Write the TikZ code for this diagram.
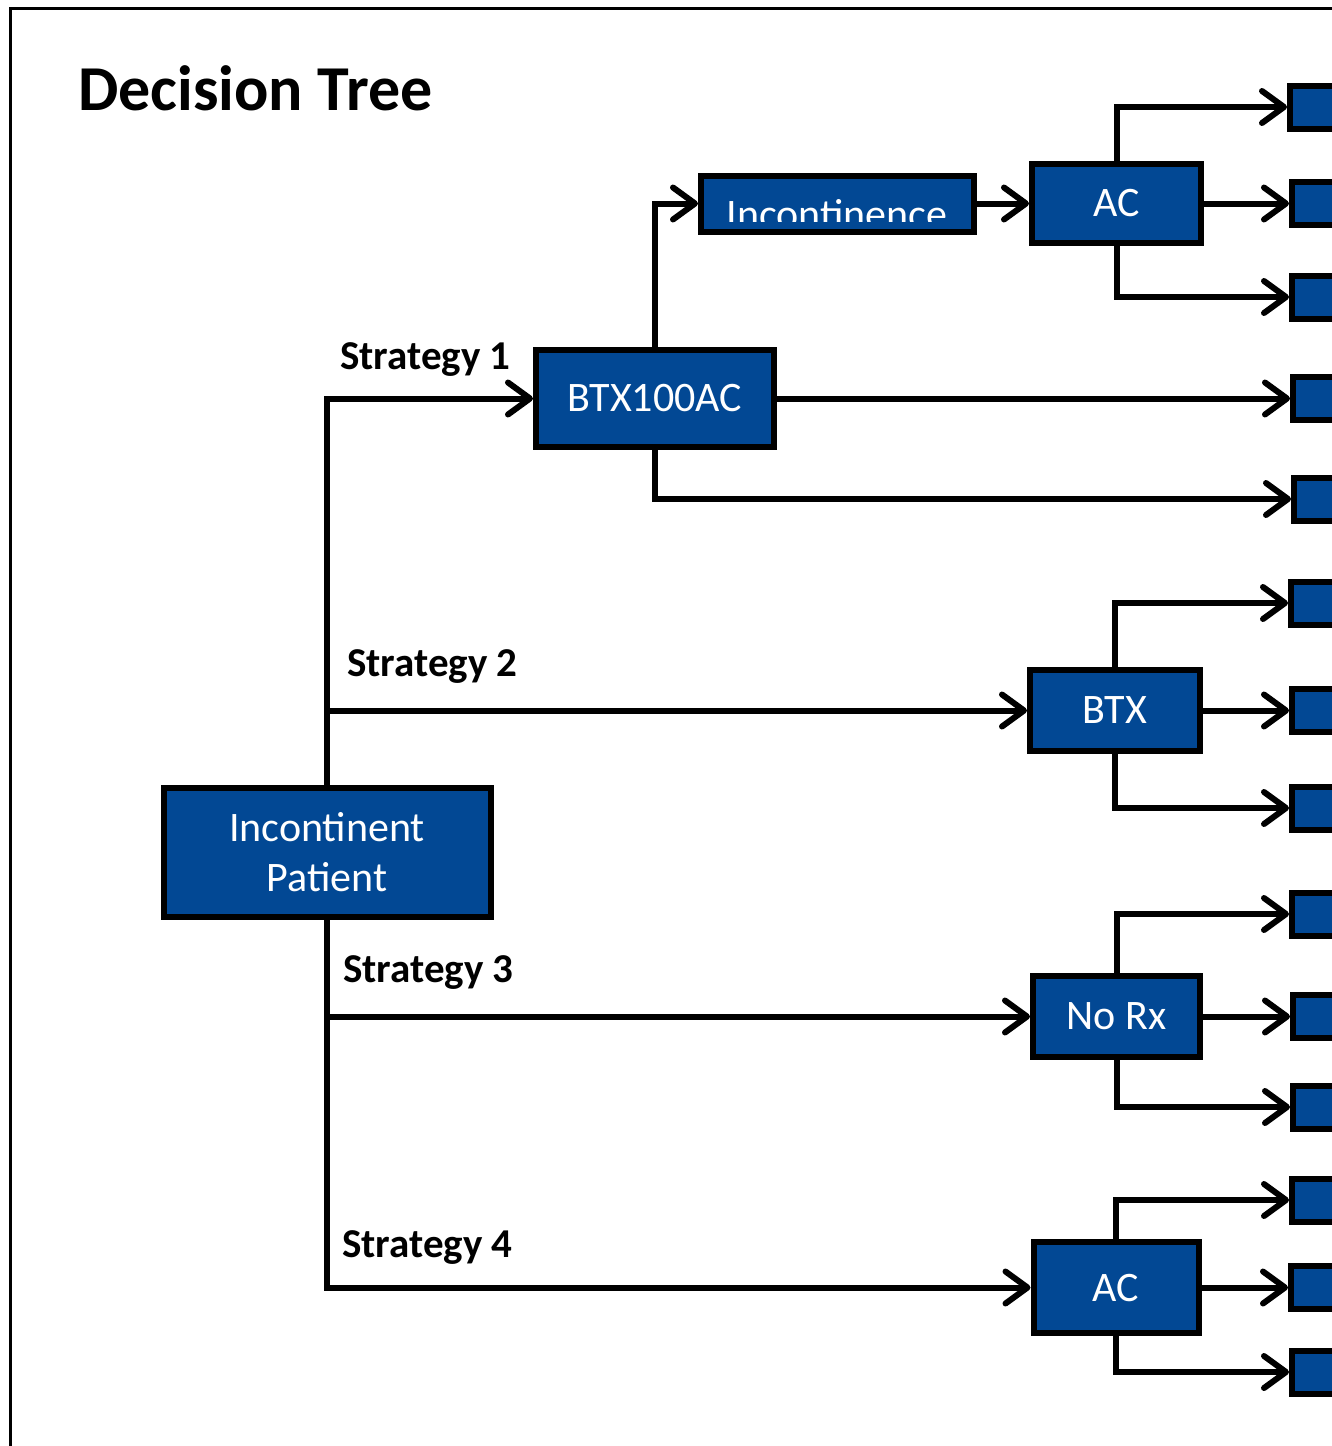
\documentclass[tikz,border=0pt]{standalone}
\usepackage{fontspec}
\setmainfont{Carlito}
\usetikzlibrary{arrows.meta}
\definecolor{boxblue}{RGB}{2,72,148}
\begin{document}
\begin{tikzpicture}[x=1pt,y=-1pt,
  box/.style={draw=black, line width=6pt, fill=boxblue, text=white, inner sep=0pt, align=center, font=\fontsize{42}{50}\selectfont},
  leaf/.style={draw=black, line width=6pt, fill=boxblue, inner sep=0pt, minimum height=43pt, minimum width=100pt, anchor=west},
  conn/.style={line width=6pt, -{Straight Barb[length=22pt,width=32pt,line width=6pt,round]}},
  lbl/.style={font=\bfseries\fontsize{41}{49}\selectfont, anchor=base west, inner sep=0pt}]
\clip (0,0) rectangle (1332,1446);
\fill[white] (0,0) rectangle (1332,1446);
\draw[line width=3pt] (10,1460) -- (10,8) -- (1345,8);

\node[anchor=base west, inner sep=0pt, font=\bfseries\fontsize{64}{76}\selectfont] (title) at (78,110) {Decision Tree};

% main boxes
\node[box, minimum width=327pt, minimum height=129pt] (P) at (327,852.5) {Incontinent\\Patient};
\node[box, minimum width=238pt, minimum height=97pt] (B1) at (655,398.5) {BTX100AC};
\node[box, minimum width=273pt, minimum height=56pt] (Inc) at (837.5,203.5) {};
\node[box, minimum width=169pt, minimum height=79pt] (AC1) at (1116.5,203.5) {AC};
\node[box, minimum width=170pt, minimum height=81pt] (BTX) at (1115,710.5) {BTX};
\node[box, minimum width=167pt, minimum height=81pt] (NoRx) at (1116.5,1016.5) {No Rx};
\node[box, minimum width=165pt, minimum height=91pt] (AC2) at (1116,1287.5) {AC};

% clipped text in Incontinence box
\begin{scope}
\clip (703,180) rectangle (972,221);
\node[anchor=base, inner sep=0pt, text=white, font=\fontsize{42}{50}\selectfont] (inctext) at (837,228) {Incontinence};
\end{scope}

% leaves
\node[leaf] (L1) at (1287,107) {};
\node[leaf] (L2) at (1289,203.5) {};
\node[leaf] (L3) at (1289,297) {};
\node[leaf] (L4) at (1290,398.5) {};
\node[leaf] (L5) at (1291,499) {};
\node[leaf] (L6) at (1288,603) {};
\node[leaf] (L7) at (1289,710.5) {};
\node[leaf] (L8) at (1289,808) {};
\node[leaf] (L9) at (1289,914) {};
\node[leaf] (L10) at (1290,1016.5) {};
\node[leaf] (L11) at (1290,1107) {};
\node[leaf] (L12) at (1289,1200) {};
\node[leaf] (L13) at (1288,1287.5) {};
\node[leaf] (L14) at (1289,1372) {};

% strategies
\draw[conn] (P.north) |- (B1.west);
\draw[conn] (P.north |- BTX.west) -- (BTX.west);
\draw[conn] (P.south) |- (AC2.west);
\draw[conn] (P.south |- NoRx.west) -- (NoRx.west);
\node[lbl] (s1) at (340,369) {Strategy 1};
\node[lbl] (s2) at (347,676) {Strategy 2};
\node[lbl] (s3) at (343,982) {Strategy 3};
\node[lbl] (s4) at (342,1257) {Strategy 4};

% strategy 1 branches
\draw[conn] (B1.north) |- (Inc.west);
\draw[conn] (Inc.east) -- (AC1.west);
\draw[conn] (B1.east) -- (L4.west);
\draw[conn] (B1.south) |- (L5.west);
\draw[conn] (AC1.north) |- (L1.west);
\draw[conn] (AC1.east) -- (L2.west);
\draw[conn] (AC1.south) |- (L3.west);

% strategy 2
\draw[conn] (BTX.north) |- (L6.west);
\draw[conn] (BTX.east) -- (L7.west);
\draw[conn] (BTX.south) |- (L8.west);

% strategy 3
\draw[conn] (NoRx.north) |- (L9.west);
\draw[conn] (NoRx.east) -- (L10.west);
\draw[conn] (NoRx.south) |- (L11.west);

% strategy 4
\draw[conn] (AC2.north) |- (L12.west);
\draw[conn] (AC2.east) -- (L13.west);
\draw[conn] (AC2.south) |- (L14.west);
\end{tikzpicture}
\end{document}
